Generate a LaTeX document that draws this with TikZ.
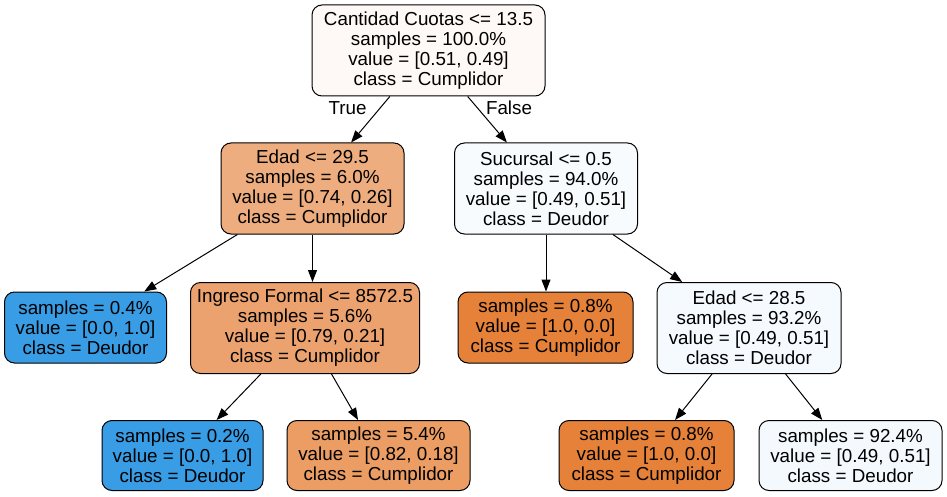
\documentclass[tikz,border=0pt]{standalone}
\usepackage{fontspec}
\setmainfont{Liberation Sans}
\usetikzlibrary{arrows.meta}
\definecolor{cRoot}{RGB}{254,249,246}
\definecolor{cEa}{RGB}{238,173,126}
\definecolor{cIng}{RGB}{236,162,110}
\definecolor{cFive}{RGB}{235,157,100}
\definecolor{cOr}{RGB}{229,129,57}
\definecolor{cBl}{RGB}{57,157,229}
\definecolor{cSuc}{RGB}{248,251,254}
\definecolor{cEb}{RGB}{245,250,254}
\definecolor{cNine}{RGB}{243,249,253}
\tikzset{
  treebox/.style={draw=black, line width=1pt, rounded corners=10pt, align=center,
    inner sep=0pt, font=\fontsize{18.8}{20}\selectfont},
  four/.style={treebox, minimum height=91pt},
  three/.style={treebox, minimum height=70pt},
  arr/.style={draw=black, line width=1pt, -{Triangle[length=12pt,width=9pt]}},
  lbl/.style={font=\fontsize{18.8}{20}\selectfont, inner sep=0pt}
}
\begin{document}
\begin{tikzpicture}[x=1pt,y=-1pt]
\useasboundingbox[fill=white] (0,0) rectangle (947,497);
\node[four, fill=cRoot, minimum width=233pt] (root) at (428.5,50.5)
  {Cantidad Cuotas <= 13.5\\samples = 100.0\%\\value = [0.51, 0.49]\\class = Cumplidor};
\node[four, fill=cEa, minimum width=183pt] (e1) at (312.5,188.5)
  {Edad <= 29.5\\samples = 6.0\%\\value = [0.74, 0.26]\\class = Cumplidor};
\node[four, fill=cSuc, minimum width=183pt] (s1) at (546,188.5)
  {Sucursal <= 0.5\\samples = 94.0\%\\value = [0.49, 0.51]\\class = Deudor};
\node[three, fill=cBl, minimum width=162pt, minimum height=71pt] (l1) at (85.5,327.5)
  {samples = 0.4\%\\value = [0.0, 1.0]\\class = Deudor};
\node[four, fill=cIng, minimum width=229pt] (i1) at (305,328)
  {Ingreso Formal <= 8572.5\\samples = 5.6\%\\value = [0.79, 0.21]\\class = Cumplidor};
\node[three, fill=cOr, minimum width=175pt, minimum height=71pt] (l2) at (545.5,327.5)
  {samples = 0.8\%\\value = [1.0, 0.0]\\class = Cumplidor};
\node[four, fill=cEb, minimum width=184pt] (e2) at (749,328)
  {Edad <= 28.5\\samples = 93.2\%\\value = [0.49, 0.51]\\class = Deudor};
\node[three, fill=cBl, minimum width=161pt] (l3) at (182.5,455.5)
  {samples = 0.2\%\\value = [0.0, 1.0]\\class = Deudor};
\node[three, fill=cFive, minimum width=183pt] (l4) at (378.5,455.5)
  {samples = 5.4\%\\value = [0.82, 0.18]\\class = Cumplidor};
\node[three, fill=cOr, minimum width=175pt] (l5) at (646.5,455.5)
  {samples = 0.8\%\\value = [1.0, 0.0]\\class = Cumplidor};
\node[three, fill=cNine, minimum width=183pt] (l6) at (850.5,455.5)
  {samples = 92.4\%\\value = [0.49, 0.51]\\class = Deudor};
\draw[arr] (root) -- (e1);
\draw[arr] (root) -- (s1);
\draw[arr] (e1) -- (l1);
\draw[arr] (e1.south) -- (e1.south |- i1.north);
\draw[arr] (s1.south) -- (s1.south |- l2.north);
\draw[arr] (s1) -- (e2);
\draw[arr] (i1) -- (l3);
\draw[arr] (i1) -- (l4);
\draw[arr] (e2) -- (l5);
\draw[arr] (e2) -- (l6);
\node[lbl] (tlab) at (347.5,108) {True};
\node[lbl] (flab) at (509,108) {False};
\end{tikzpicture}
\end{document}
